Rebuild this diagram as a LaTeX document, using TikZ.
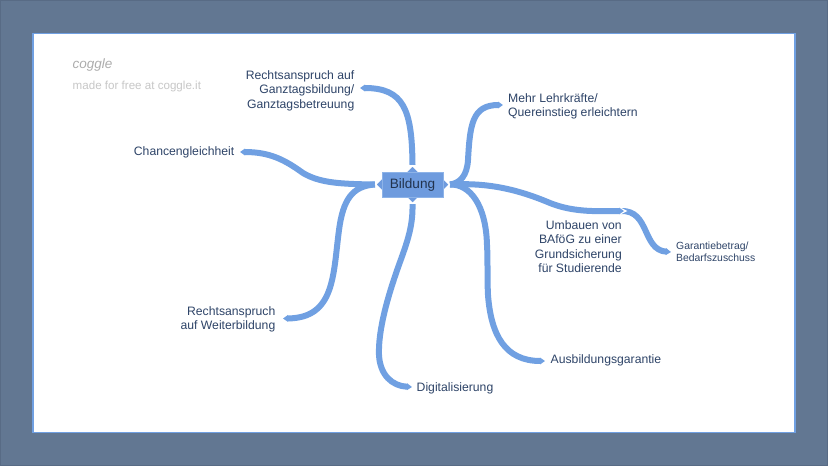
\documentclass[tikz,border=0pt]{standalone}
\usepackage{fontspec}
\setmainfont{Liberation Sans}
\usetikzlibrary{arrows.meta,shapes.geometric}
\definecolor{frame}{RGB}{98,119,146}
\definecolor{frameedge}{RGB}{88,107,133}
\definecolor{edgeblue}{RGB}{112,160,226}
\definecolor{boxblue}{RGB}{110,155,222}
\definecolor{txt}{RGB}{46,68,104}
\pgfdeclarelayer{links}
\pgfsetlayers{links,main}
\tikzset{
  lab/.style={text=txt,font=\fontsize{12.2}{14.4}\selectfont,inner sep=0pt},
  small/.style={text=txt,font=\fontsize{10.4}{12.2}\selectfont,inner sep=0pt,align=left},
  branch/.style={draw=edgeblue,line width=6pt,line cap=butt,-{Triangle[length=5pt,width=6.6pt]}},
  port/.style={diamond,fill=boxblue,draw=white,line width=1.1pt,minimum width=13pt,minimum height=13pt,inner sep=0pt},
  rootbox/.style={fill=boxblue,draw=edgeblue!80!white,line width=.6pt,minimum width=61pt,minimum height=25pt,inner sep=0pt,text=txt!75!black,font=\fontsize{13.6}{15}\selectfont},
}
\begin{document}
\begin{tikzpicture}[x=1pt,y=-1pt]
\useasboundingbox (0,0) rectangle (828,466);
\begin{pgfonlayer}{links}
\fill[frame] (0,0) rectangle (828,466);
\draw[frameedge,line width=2pt] (0,0) rectangle (828,466);
\fill[white,draw=edgeblue,line width=1.6pt] (33,33.5) rectangle (795,432.5);
\end{pgfonlayer}
\node[text=black!32,font=\fontsize{13.5}{14}\itshape\selectfont,anchor=west,inner sep=0pt] (brand) at (72.5,65) {coggle};
\node[text=black!22,font=\fontsize{11.6}{12}\selectfont,anchor=west,inner sep=0pt] (made) at (72.5,86) {made for free at coggle.it};
\node[port] (pn) at (412.5,172) {};
\node[port] (ps) at (412.5,197) {};
\node[port] (pw) at (382,184.5) {};
\node[port] (pe) at (443,184.5) {};
\node[rootbox] (bildung) at (412.5,184.5) {Bildung};
\coordinate (eA) at (360,88);
\coordinate (eB) at (503,105);
\coordinate (eC) at (240,152);
\coordinate (eD) at (624,211);
\coordinate (eD2) at (671,252);
\coordinate (eE) at (283,318.5);
\coordinate (eF) at (412,387);
\coordinate (eG) at (545,361);
\begin{pgfonlayer}{links}
\draw[branch] (pn.north) .. controls (412,110) and (404,88) .. (eA);
\draw[branch] (pe.east) .. controls (460,183) and (467,176) .. (468,160) .. controls (470,125) and (472,105) .. (eB);
\draw[branch] (pw.west) .. controls (340,184) and (320,183) .. (303,173) .. controls (285,160) and (270,152) .. (eC);
\draw[branch] (pw.west) .. controls (352,186) and (343,200) .. (339,230) .. controls (333,275) and (335,318) .. (eE);
\draw[branch] (ps.south) .. controls (413,225) and (408,240) .. (400,262) .. controls (388,295) and (378,330) .. (379,355) .. controls (380,375) and (392,386) .. (eF);
\draw[branch] (pe.east) .. controls (470,184) and (486,205) .. (487,245) .. controls (488,262) and (487,275) .. (488,295) .. controls (491,335) and (505,361) .. (eG);
\draw[branch] (eD) ++(-3,0) .. controls (650,210) and (642,250) .. (eD2);
\fill[white] (616,205.5) -- (627.5,211) -- (616,216.5) -- cycle;
\draw[branch] (pe.east) .. controls (480,183) and (510,186) .. (550,203) .. controls (575,213) and (600,211) .. (eD);
\end{pgfonlayer}
\node[lab,align=right,anchor=east] (a) at (354.5,90.7) {Rechtsanspruch auf\\Ganztagsbildung/\\Ganztagsbetreuung};
\node[lab,align=left,anchor=west] (b) at (508,106.5) {Mehr Lehrkräfte/\\Quereinstieg erleichtern};
\node[lab,anchor=east] (cc) at (234.5,152.5) {Chancengleichheit};
\node[lab,align=right,anchor=east] (d) at (622,246.5) {Umbauen von\\BAföG zu einer\\Grundsicherung\\für Studierende};
\node[small,anchor=west] (d2) at (676,251.5) {Garantiebetrag/\\Bedarfszuschuss};
\node[lab,align=right,anchor=east] (e) at (275.5,319.5) {Rechtsanspruch\\auf Weiterbildung};
\node[lab,anchor=west] (f) at (416.5,388) {Digitalisierung};
\node[lab,anchor=west] (g) at (550.5,360.5) {Ausbildungsgarantie};
\end{tikzpicture}
\end{document}
